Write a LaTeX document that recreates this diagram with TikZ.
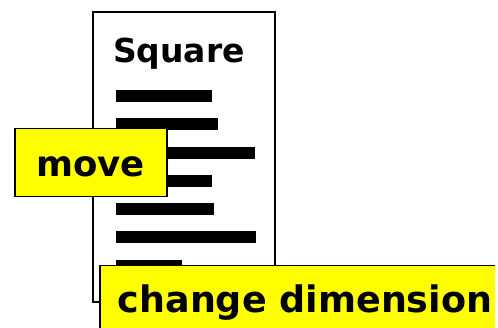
\documentclass[tikz,border=0pt]{standalone}
\usepackage{fontspec}
\setmainfont{DejaVu Sans}
\usepackage{tikz}
\usetikzlibrary{positioning}
\definecolor{tagfill}{HTML}{FFFF00}
\definecolor{tagink}{HTML}{000000}
\tikzset{
  sheet/.style={draw=tagink,line width=1.3pt,fill=white,minimum width=182pt,minimum height=290pt,inner sep=0pt},
  tagbox/.style={draw=tagink,line width=1.5pt,fill=tagfill,inner sep=0pt},
  tagtext/.style={font=\fontsize{35.5}{40}\selectfont\bfseries,text=tagink,inner sep=0pt},
  bar/.style={fill=tagink},
}
\begin{document}
\begin{tikzpicture}[x=1pt,y=-1pt]
  \useasboundingbox (0,0) rectangle (498,328);
  \fill[white] (0,0) rectangle (498,328);
  \clip (0,0) rectangle (495,328);

  % ---------- the sheet ----------
  \node[sheet] (sheet) at (184,157) {};
  \node[tagtext,font=\fontsize{33}{38}\selectfont\bfseries,anchor=base] (title) at (179,63) {Square};
  \foreach \y/\r in {96/212,124.3/218,152.6/255,180.9/212,209.2/214,237.5/256,265.8/182}{
    \fill[bar] (116,\y-6) rectangle (\r,\y+6);}

  % ---------- move tag ----------
  \node[tagbox,minimum width=152pt,minimum height=68pt,anchor=north west] (movebox) at (14,128) {};
  \node[tagtext,anchor=base] (move) at (90.5,177) {move};

  % ---------- change dimension tag ----------
  \node[tagbox,minimum width=420pt,minimum height=90pt,anchor=north west] (dimbox) at (99,265) {};
  \node[tagtext,font=\fontsize{36.5}{40}\selectfont\bfseries,anchor=base] (dim) at (305,313) {change dimension};
\end{tikzpicture}
\end{document}
